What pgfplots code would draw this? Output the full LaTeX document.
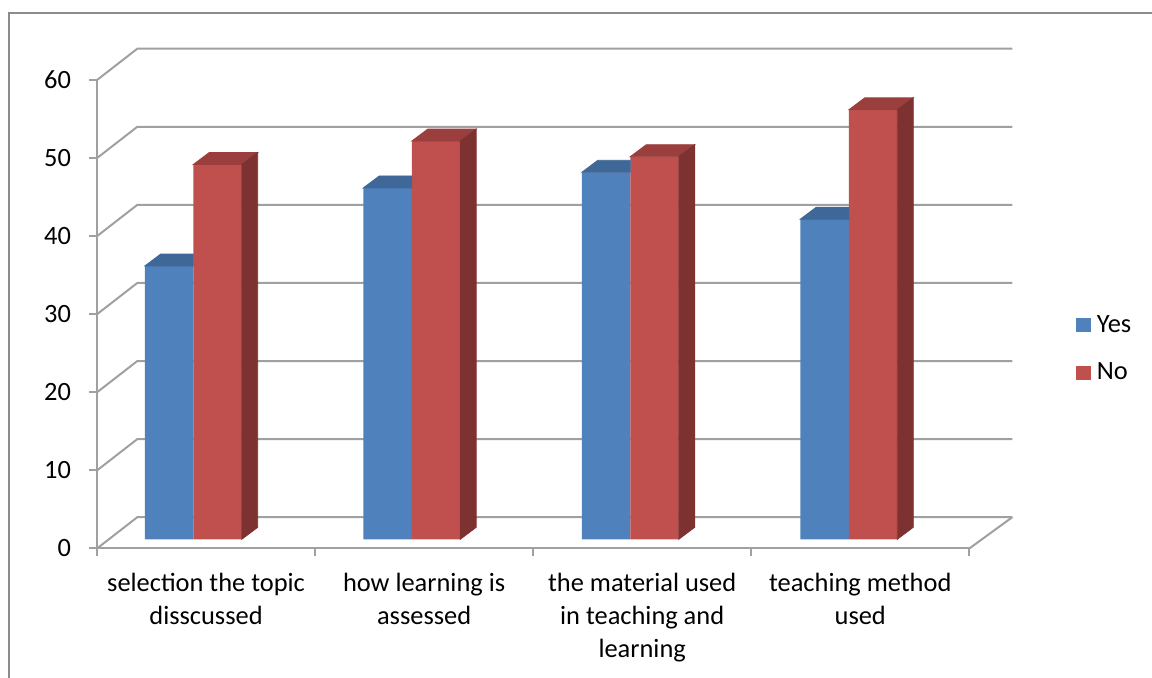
\documentclass[border=0pt]{standalone}
\usepackage{pgfplots}
\pgfplotsset{compat=1.18}
\usepackage{pgfplotstable}
\usepackage{fontspec}
\setmainfont{Carlito}

\definecolor{yesfront}{HTML}{4F81BD}
\definecolor{yestop}{HTML}{3F6797}
\definecolor{yesside}{HTML}{385D8A}
\definecolor{nofront}{HTML}{C0504D}
\definecolor{notop}{HTML}{9A3F3D}
\definecolor{noside}{HTML}{7D3130}
\definecolor{gridgray}{HTML}{A0A0A0}
\definecolor{framegray}{HTML}{8C8C8C}

\pgfplotstableread{
idx yes no
0   35  48
1   45  51
2   47  49
3   41  55
}\answers

% an invisible mark: the scatter code below draws the column faces instead
\pgfdeclareplotmark{void}{}

\newcommand{\labelfont}{\fontsize{13.2}{16.4}\selectfont}

\begin{document}
\begin{tikzpicture}
\useasboundingbox (0,0) rectangle (576pt,-339pt);

% frame and the back/side walls of the 3-D chart (1 unit = 0.5pt, y downwards)
\begin{scope}[x=0.5pt,y=-0.5pt]
  \draw[framegray, line width=0.8pt] (9,678) -- (9,13.3) -- (1152,13.3);
  \foreach \v in {0,10,...,60}{
    \pgfmathsetmacro\fy{548.5-7.808*\v}
    \pgfmathsetmacro\by{\fy-31.3}
    \draw[gridgray, line width=1pt] (97,\fy) -- (137.3,\by) -- (1012.3,\by);
  }
  \draw[gridgray, line width=1pt] (969.3,548.5) -- (1012.3,517.2);
\end{scope}

\begin{axis}[
  at={(48.5pt,-274.25pt)}, anchor=south west,
  scale only axis, width=436.15pt, height=234.25pt,
  xmin=0, xmax=4, ymin=0, ymax=60,
  clip=false,
  axis x line*=bottom, axis y line*=left,
  axis line style={-, draw=gridgray, line width=1pt},
  ytick={0,10,...,60},
  xtick={0.5,1.5,2.5,3.5},
  xticklabels={{selection the topic\\disscussed},{how learning is\\assessed},{the material used\\in teaching and\\learning},{teaching method\\used}},
  minor xtick={0,1,2,3,4},
  tick align=outside,
  major tick length=4pt, minor tick length=4pt,
  tick style={gridgray, line width=1pt},
  major x tick style={draw=none},
  tick label style={font=\labelfont},
  /pgf/number format/assume math mode=true,
  xticklabel style={align=center, yshift=-5pt},
  yticklabel style={xshift=-5.5pt},
  legend style={at={(1.1223,0.4258)}, anchor=west, draw=none, fill=none,
    inner sep=0pt, font=\labelfont, row sep=12pt,
    nodes={inner sep=1pt},
    /tikz/every odd column/.append style={column sep=2pt}},
  legend cell align=left,
  legend image code/.code={\fill[#1] (0pt,-3.6pt) rectangle (7.2pt,3.6pt);},
]

% Yes columns: front faces
\addplot[ybar, bar width=0.2222, bar shift=0, fill=yesfront, draw=none,
  xshift=5.5pt, yshift=4.6pt, forget plot]
  table[x expr=\thisrow{idx}*1.002+0.2799, y=yes] {\answers};
% Yes columns: the part of the top face left of the taller No column
\addplot[only marks, mark=void, scatter, forget plot,
  xshift=5.5pt, yshift=4.6pt,
  scatter/@pre marker code/.code={
    \fill[yestop] (-12.12pt,0pt) -- (12.12pt,0pt) -- (12.12pt,6pt) -- (-4.12pt,6pt) -- cycle;
  },
  scatter/@post marker code/.code={}]
  table[x expr=\thisrow{idx}*1.002+0.2799, y=yes] {\answers};

% No columns: front faces
\addplot[ybar, bar width=0.2222, bar shift=0, fill=nofront, draw=none,
  xshift=5.5pt, yshift=4.6pt, forget plot]
  table[x expr=\thisrow{idx}*1.002+0.5021, y=no] {\answers};
% No columns: top and right faces
\addplot[only marks, mark=void, scatter, forget plot,
  xshift=5.5pt, yshift=4.6pt,
  visualization depends on={rawy \as \colval},
  scatter/@pre marker code/.code={
    \pgfmathsetmacro\colh{\colval*3.904}
    \fill[notop] (-12.12pt,0pt) -- (12.12pt,0pt) -- (20.12pt,6pt) -- (-4.12pt,6pt) -- cycle;
    \fill[noside] (12.12pt,0pt) -- (20.12pt,6pt) -- (20.12pt,{6pt-\colh pt}) -- (12.12pt,{-\colh pt}) -- cycle;
  },
  scatter/@post marker code/.code={}]
  table[x expr=\thisrow{idx}*1.002+0.5021, y=no] {\answers};

\addlegendimage{fill=yesfront, draw=none}
\addlegendentry{Yes}
\addlegendimage{fill=nofront, draw=none}
\addlegendentry{No}
\end{axis}
\end{tikzpicture}
\end{document}
